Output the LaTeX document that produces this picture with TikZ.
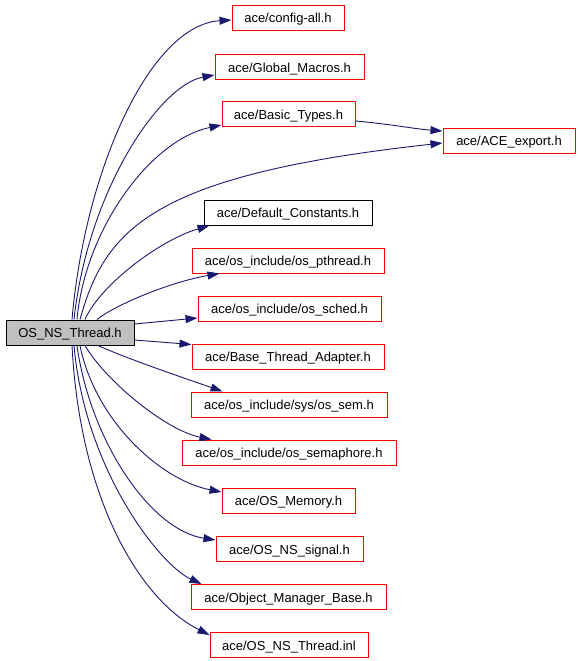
\documentclass[tikz,border=0pt]{standalone}
\usepackage{fontspec}
\setmainfont{Liberation Sans}
\usetikzlibrary{arrows.meta}
\definecolor{edgecol}{HTML}{191970}
\definecolor{srcfill}{HTML}{BFBFBF}
\tikzset{
  box/.style={draw=red, line width=1pt, minimum height=25pt, inner sep=0pt,
    text height=10.5pt, text depth=0.5pt,
    font=\fontsize{13}{15}\selectfont, anchor=center},
  blackbox/.style={box, draw=black},
  srcbox/.style={box, draw=black, fill=srcfill},
  edge/.style={draw=edgecol, line width=0.9pt, -{Triangle[length=12pt,width=8pt]}},
}
\begin{document}
\begin{tikzpicture}[x=1pt,y=-1pt]
\useasboundingbox (0,0) rectangle (579,661);
% nodes
\node[srcbox, minimum width=128pt] (src) at (70,332.5) {OS\_NS\_Thread.h};
\node[box, minimum width=112pt] (cfg) at (288,18) {ace/config-all.h};
\node[box, minimum width=149pt] (glob) at (289.5,67) {ace/Global\_Macros.h};
\node[box, minimum width=133pt] (basic) at (288.5,114) {ace/Basic\_Types.h};
\node[box, minimum width=132pt] (acex) at (509,140.5) {ace/ACE\_export.h};
\node[blackbox, minimum width=168pt] (defc) at (288,212.5) {ace/Default\_Constants.h};
\node[box, minimum width=192pt] (pth) at (288,260.5) {ace/os\_include/os\_pthread.h};
\node[box, minimum width=183pt] (sched) at (289.5,308.5) {ace/os\_include/os\_sched.h};
\node[box, minimum width=192pt] (bta) at (288,356.5) {ace/Base\_Thread\_Adapter.h};
\node[box, minimum width=196pt] (sem) at (289,404.5) {ace/os\_include/sys/os\_sem.h};
\node[box, minimum width=214pt] (semph) at (289,452.5) {ace/os\_include/os\_semaphore.h};
\node[box, minimum width=133pt] (mem) at (288.5,500.5) {ace/OS\_Memory.h};
\node[box, minimum width=147pt] (sig) at (289.5,549) {ace/OS\_NS\_signal.h};
\node[box, minimum width=195pt] (omb) at (288.5,597) {ace/Object\_Manager\_Base.h};
\node[box, minimum width=158pt] (inl) at (289,645) {ace/OS\_NS\_Thread.inl};
% edges upward
\draw[edge] ([xshift=2pt]src.north) .. controls (85,170) and (150,25) .. ([yshift=-2pt]cfg.west);
\draw[edge] ([xshift=4pt]src.north) .. controls (88,190) and (160,85) .. ([yshift=-8pt]glob.west);
\draw[edge] ([xshift=7pt]src.north) .. controls (85,230) and (150,140) .. ([yshift=-11pt]basic.west);
\draw[edge] ([xshift=10pt]src.north) .. controls (105,230) and (150,175) .. ([yshift=-2.5pt]acex.west);
\draw[edge] ([xshift=15pt]src.north) .. controls (100,285) and (160,240) .. ([xshift=6pt]defc.south west);
\draw[edge] ([xshift=27pt]src.north) .. controls (115,305) and (170,282) .. ([xshift=28pt]pth.south west);
\draw[edge] ([yshift=-7pt]basic.east) .. controls (390,124) and (415,129) .. ([yshift=9.5pt]acex.west);
% edges sideways
\draw[edge] ([yshift=8.5pt]src.east) -- ([yshift=-9.5pt]sched.west);
\draw[edge] ([yshift=-7.5pt]src.east) -- ([yshift=-1pt]bta.north west);
% edges downward
\draw[edge] ([xshift=28pt]src.south) .. controls (130,360) and (190,380) .. ([xshift=32pt]sem.north west);
\draw[edge] ([xshift=15pt]src.south) .. controls (105,380) and (165,430) .. ([xshift=30pt]semph.north west);
\draw[edge] ([xshift=10pt]src.south) .. controls (95,420) and (160,480) .. ([yshift=8.5pt]mem.west);
\draw[edge] ([xshift=7pt]src.south) .. controls (90,440) and (150,530) .. ([yshift=9pt]sig.west);
\draw[edge] ([xshift=4pt]src.south) .. controls (85,470) and (160,565) .. ([xshift=11pt]omb.north west);
\draw[edge] ([xshift=2pt]src.south) .. controls (80,500) and (140,600) .. ([yshift=10pt]inl.west);
\end{tikzpicture}
\end{document}
